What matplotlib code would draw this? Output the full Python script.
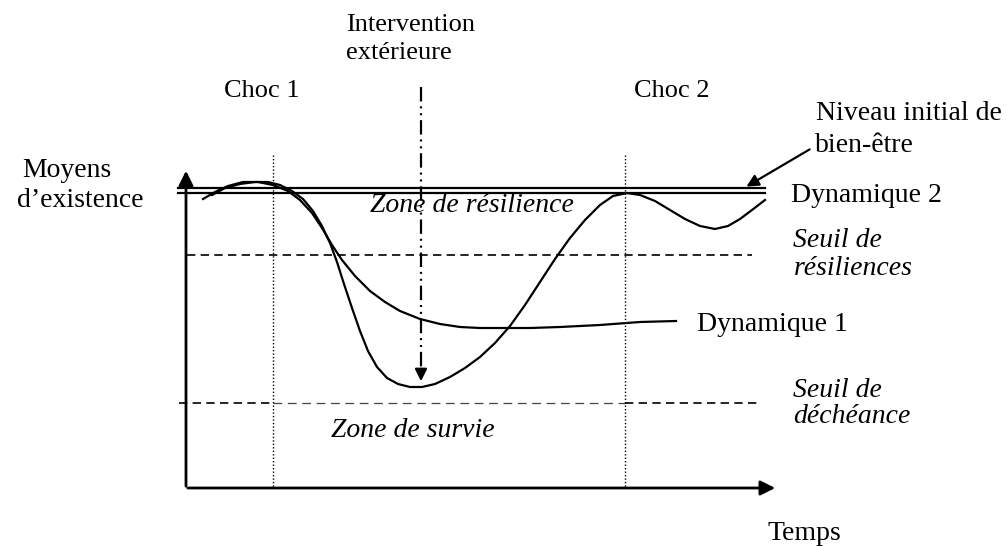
import matplotlib
matplotlib.use("Agg")
import matplotlib.pyplot as plt

plt.rcParams['font.family'] = ['Liberation Serif', 'DejaVu Serif']

# curves (pixel frame, y grows downward)
dyn1_x = [203, 215, 228, 243, 258, 273, 288, 300, 312, 322, 332, 342, 355, 370,
          385, 400, 420, 440, 460, 480, 500, 530, 560, 600, 640, 676]
dyn1_y = [199, 192, 186, 182, 182, 185, 191, 200, 213, 228, 245, 260, 276, 291,
          302, 311, 319, 324, 327, 328, 328, 328, 327, 325, 322, 321]

dyn2_x = [212, 225, 240, 255, 268, 280, 292, 303, 313, 322, 330, 337, 344, 352,
          360, 368, 377, 387, 398, 410, 422, 435, 450, 465, 480, 495, 510, 525,
          540, 555, 570, 585, 600, 613, 627, 640, 655, 670, 685, 700, 715, 728,
          740, 752, 765]
dyn2_y = [195, 188, 184, 182, 182, 185, 191, 199, 211, 226, 243, 262, 284, 308,
          331, 351, 367, 378, 384, 387, 387, 384, 377, 368, 357, 343, 326, 305,
          282, 259, 238, 220, 205, 196, 193, 195, 201, 210, 219, 226, 229, 226,
          219, 210, 200]

niveau_y = [188, 193]      # double line: initial well-being
seuil_res_y = 255          # resilience threshold
seuil_dech_y = 403         # decline threshold
choc_x = [273, 625]
interv_x = 421

fig = plt.figure(figsize=(10.07, 5.46), dpi=100)
ax = fig.add_axes([0, 0, 1, 1])
ax.set_xlim(0, 1007)
ax.set_ylim(546, 0)
ax.axis('off')

# axes with arrows
ax.annotate('', xy=(186, 168), xytext=(186, 489),
            arrowprops=dict(arrowstyle='-|>', lw=2, color='k', mutation_scale=22))
ax.annotate('', xy=(778, 488), xytext=(185, 488),
            arrowprops=dict(arrowstyle='-|>', lw=2, color='k', mutation_scale=22))

# reference levels
for y in niveau_y:
    ax.plot([178, 765], [y, y], color='k', lw=1.6)
dash = (0, (5, 3.2))
ax.plot([187, 752], [seuil_res_y] * 2, color='k', lw=1.2, ls=dash)
ax.plot([179, choc_x[0]], [seuil_dech_y] * 2, color='k', lw=1.2, ls=dash)
ax.plot([choc_x[0], choc_x[1]], [seuil_dech_y] * 2, color='#444444', lw=0.9, ls=(0, (7, 4.5)))
ax.plot([choc_x[1], 759], [seuil_dech_y] * 2, color='k', lw=1.2, ls=dash)

# shocks
for x in choc_x:
    ax.plot([x, x], [155, 488], color='k', lw=1, ls=(0, (1, 1.5)))

# external intervention
ax.plot([interv_x, interv_x], [87, 372], color='k', lw=1.6,
        ls=(0, (6.5, 2.2, 0.9, 2.2, 0.9, 2.2)))
ax.annotate('', xy=(interv_x, 384), xytext=(interv_x, 366),
            arrowprops=dict(arrowstyle='-|>', lw=1.6, color='k', mutation_scale=18))

# dynamics
ax.plot(dyn1_x, dyn1_y, color='k', lw=1.6)
ax.plot(dyn2_x, dyn2_y, color='k', lw=1.6)

# pointer to the initial level
ax.annotate('', xy=(744, 188), xytext=(812, 148),
            arrowprops=dict(arrowstyle='-|>', lw=1.6, color='k', mutation_scale=18))

fs = 20
b = 'baseline'
ax.text(346, 31, 'Intervention', fontsize=19, va=b)
ax.text(346, 59, 'extérieure', fontsize=19, va=b)
ax.text(224, 97, 'Choc 1', fontsize=19, va=b)
ax.text(634, 97, 'Choc 2', fontsize=19, va=b)
ax.text(816, 120, 'Niveau initial de', fontsize=fs, va=b)
ax.text(815, 152, 'bien-être', fontsize=fs, va=b)
ax.text(22, 177, 'Moyens', fontsize=fs, va=b)
ax.text(144, 207, 'd’existence', fontsize=fs, va=b, ha='right')
ax.text(791, 202, 'Dynamique 2', fontsize=fs, va=b)
ax.text(793, 247, 'Seuil de', fontsize=fs, va=b, style='italic')
ax.text(794, 275, 'résiliences', fontsize=fs, va=b, style='italic')
ax.text(370, 212, 'Zone de résilience', fontsize=fs, va=b, style='italic')
ax.text(697, 331, 'Dynamique 1', fontsize=fs, va=b)
ax.text(793, 397, 'Seuil de', fontsize=fs, va=b, style='italic')
ax.text(793, 423, 'déchéance', fontsize=fs, va=b, style='italic')
ax.text(331, 437, 'Zone de survie', fontsize=fs, va=b, style='italic')
ax.text(767, 540, 'Temps', fontsize=fs, va=b)

fig.savefig('out.png', dpi=100)
